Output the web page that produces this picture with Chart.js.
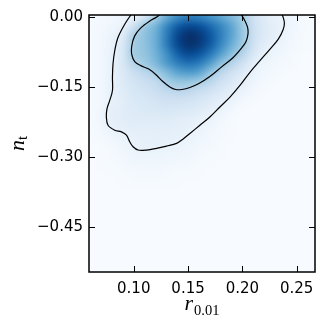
<!DOCTYPE html>
<html>
<head>
<meta charset="utf-8">
<script src="https://cdn.jsdelivr.net/npm/chart.js@4.4.1/dist/chart.umd.min.js"></script>
<style>
  html, body { margin: 0; padding: 0; background: #fff; }
  #wrap { width: 327px; height: 328px; }
</style>
</head>
<body>
<div id="wrap"><canvas id="chart" width="327" height="328"></canvas></div>
<script>
// axis ticks
const xTicks = [0.10, 0.15, 0.20, 0.25];
const yTicks = [0.00, -0.15, -0.30, -0.45];

// density grid (cell centres), 0..1 of the peak
const gridX = [0.06, 0.07, 0.08, 0.09, 0.10, 0.11, 0.12, 0.13, 0.14, 0.15, 0.16,
               0.17, 0.18, 0.19, 0.20, 0.21, 0.22, 0.23, 0.24, 0.25, 0.26];
const gridY = [0.00, -0.02, -0.04, -0.06, -0.08, -0.10, -0.12, -0.14, -0.16, -0.18,
               -0.20, -0.22, -0.24, -0.26, -0.28, -0.30, -0.32, -0.34, -0.36, -0.38];
const density = [
  [0.01,0.02,0.03,0.05,0.08,0.15,0.33,0.50,0.64,0.70,0.68,0.62,0.54,0.45,0.36,0.20,0.12,0.08,0.05,0.03,0.01],
  [0.01,0.02,0.04,0.07,0.20,0.38,0.47,0.66,0.82,0.90,0.88,0.78,0.67,0.54,0.38,0.22,0.13,0.09,0.06,0.03,0.01],
  [0.01,0.03,0.06,0.12,0.33,0.41,0.50,0.70,0.91,1.00,0.97,0.86,0.70,0.55,0.39,0.22,0.13,0.09,0.05,0.02,0.01],
  [0.01,0.03,0.07,0.15,0.35,0.41,0.50,0.70,0.90,0.99,0.96,0.84,0.67,0.50,0.37,0.20,0.11,0.07,0.04,0.02,0.01],
  [0.01,0.03,0.08,0.16,0.36,0.40,0.48,0.63,0.81,0.90,0.86,0.73,0.57,0.42,0.30,0.16,0.08,0.05,0.03,0.01,0.00],
  [0.01,0.03,0.08,0.15,0.30,0.37,0.45,0.58,0.69,0.75,0.71,0.58,0.42,0.30,0.20,0.10,0.05,0.03,0.02,0.01,0.00],
  [0.01,0.03,0.08,0.14,0.22,0.28,0.34,0.44,0.54,0.58,0.54,0.40,0.28,0.20,0.13,0.07,0.03,0.02,0.01,0.00,0.00],
  [0.01,0.03,0.08,0.13,0.18,0.22,0.26,0.34,0.39,0.39,0.35,0.28,0.20,0.14,0.09,0.05,0.02,0.01,0.00,0.00,0.00],
  [0.01,0.03,0.08,0.12,0.16,0.19,0.22,0.26,0.28,0.27,0.23,0.19,0.14,0.10,0.06,0.03,0.01,0.00,0.00,0.00,0.00],
  [0.01,0.03,0.08,0.11,0.14,0.16,0.18,0.20,0.20,0.19,0.16,0.13,0.09,0.06,0.03,0.01,0.00,0.00,0.00,0.00,0.00],
  [0.01,0.04,0.09,0.11,0.13,0.14,0.15,0.16,0.15,0.14,0.12,0.09,0.06,0.03,0.01,0.00,0.00,0.00,0.00,0.00,0.00],
  [0.01,0.04,0.09,0.11,0.12,0.12,0.12,0.12,0.11,0.10,0.08,0.06,0.03,0.01,0.00,0.00,0.00,0.00,0.00,0.00,0.00],
  [0.01,0.03,0.07,0.09,0.10,0.10,0.10,0.10,0.09,0.08,0.06,0.04,0.02,0.01,0.00,0.00,0.00,0.00,0.00,0.00,0.00],
  [0.00,0.02,0.04,0.06,0.075,0.085,0.09,0.085,0.08,0.065,0.045,0.03,0.015,0.005,0,0,0,0,0,0,0],
  [0.00,0.01,0.02,0.04,0.07,0.078,0.077,0.065,0.055,0.045,0.03,0.02,0.01,0,0,0,0,0,0,0,0],
  [0.00,0.01,0.015,0.03,0.045,0.05,0.05,0.045,0.04,0.03,0.02,0.01,0.005,0,0,0,0,0,0,0,0],
  [0.00,0.005,0.01,0.02,0.03,0.035,0.035,0.03,0.025,0.02,0.01,0.005,0,0,0,0,0,0,0,0,0],
  [0,0,0.005,0.01,0.015,0.02,0.02,0.015,0.01,0.01,0.005,0,0,0,0,0,0,0,0,0,0],
  [0,0,0,0.005,0.008,0.01,0.01,0.008,0.005,0.003,0,0,0,0,0,0,0,0,0,0,0],
  [0,0,0,0,0,0,0,0,0,0,0,0,0,0,0,0,0,0,0,0,0],
];

// contour lines
const outerX = [0.0986,0.0917,0.0855,0.0825,0.0809,0.0804,0.0804,0.0779,0.0754,0.0748,0.0763,0.0825,
                0.0887,0.0933,0.0963,0.0994,0.1040,0.1117,0.1209,0.1302,0.1394,0.1455,0.1517,0.1609,
                0.1701,0.1793,0.1886,0.1978,0.2070,0.2162,0.2255,0.2331,0.2377,0.2387,0.2372,0.2361];
const outerY = [0.008,-0.0162,-0.0447,-0.0730,-0.1013,-0.1298,-0.1581,-0.1794,-0.1970,-0.2149,-0.2326,-0.2432,
                -0.2468,-0.2538,-0.2681,-0.2787,-0.2857,-0.2857,-0.2821,-0.2772,-0.2715,-0.2620,-0.2502,-0.2326,
                -0.2149,-0.1936,-0.1723,-0.1474,-0.1191,-0.0943,-0.0694,-0.0481,-0.0268,-0.0128,0.0015,0.008];
const innerX = [0.1258,0.1212,0.1148,0.1065,0.1009,0.0982,0.0982,0.1009,0.1065,0.1138,0.1203,0.1268,0.1332,
                0.1387,0.1443,0.1517,0.1600,0.1701,0.1812,0.1913,0.1987,0.2033,0.2052,0.2047,0.2015,0.1978];
const innerY = [0.008,-0.0006,-0.0091,-0.0240,-0.0411,-0.0623,-0.0815,-0.0964,-0.1049,-0.1123,-0.1240,-0.1389,-0.1506,
                -0.1560,-0.1560,-0.1517,-0.1432,-0.1283,-0.1070,-0.0879,-0.0687,-0.0538,-0.0368,-0.0219,-0.0049,0.008];

const blues = ['#f7fbff', '#deebf7', '#c6dbef', '#9ecae1', '#6baed6', '#4292c6', '#2171b5', '#08519c', '#08306b'];
const bluesRgb = blues.map((c) => [1, 3, 5].map((i) => parseInt(c.slice(i, i + 2), 16)));

function cmap(v) {
    const t = Math.max(0, Math.min(1, v)) * (bluesRgb.length - 1);
    const i = Math.min(bluesRgb.length - 2, Math.floor(t));
    const f = t - i;
    return bluesRgb[i].map((c, k) => Math.round(c + (bluesRgb[i + 1][k] - c) * f));
}

const zip = (xs, ys) => xs.map((x, i) => ({ x, y: ys[i] }));

const heatmap = {
    id: 'heatmap',
    beforeDatasetsDraw(chart) {
        const { ctx, chartArea: a, scales: { x, y } } = chart;
        const nx = gridX.length;
        const ny = gridY.length;
        const off = document.createElement('canvas');
        off.width = nx;
        off.height = ny;
        const octx = off.getContext('2d');
        const img = octx.createImageData(nx, ny);
        density.forEach((row, j) => row.forEach((v, i) => {
            const c = cmap(v);
            const k = (j * nx + i) * 4;
            img.data[k] = c[0];
            img.data[k + 1] = c[1];
            img.data[k + 2] = c[2];
            img.data[k + 3] = 255;
        }));
        octx.putImageData(img, 0, 0);
        const hx = (gridX[1] - gridX[0]) / 2;
        const hy = (gridY[0] - gridY[1]) / 2;
        const left = x.getPixelForValue(gridX[0] - hx);
        const right = x.getPixelForValue(gridX[nx - 1] + hx);
        const top = y.getPixelForValue(gridY[0] + hy);
        const bottom = y.getPixelForValue(gridY[ny - 1] - hy);
        ctx.save();
        ctx.fillStyle = blues[0];
        ctx.fillRect(a.left, a.top, a.width, a.height);
        ctx.beginPath();
        ctx.rect(a.left, a.top, a.width, a.height);
        ctx.clip();
        ctx.imageSmoothingEnabled = true;
        ctx.imageSmoothingQuality = 'high';
        ctx.drawImage(off, left, top, right - left, bottom - top);
        ctx.restore();
    },
};

const frame = {
    id: 'frame',
    afterDraw(chart) {
        const { ctx, chartArea: a, scales: { x, y } } = chart;
        const len = 6;
        ctx.save();
        ctx.strokeStyle = '#000';
        ctx.lineWidth = 1;
        ctx.beginPath();
        x.ticks.forEach((t) => {
            const px = Math.round(x.getPixelForValue(t.value)) + 0.5;
            ctx.moveTo(px, a.bottom); ctx.lineTo(px, a.bottom - len);
            ctx.moveTo(px, a.top); ctx.lineTo(px, a.top + len);
        });
        y.ticks.forEach((t) => {
            const py = Math.round(y.getPixelForValue(t.value)) + 0.5;
            ctx.moveTo(a.left, py); ctx.lineTo(a.left + len, py);
            ctx.moveTo(a.right, py); ctx.lineTo(a.right - len, py);
        });
        ctx.stroke();
        ctx.lineWidth = 1.5;
        ctx.strokeRect(a.left, a.top, a.width, a.height);

        // axis labels: r_{0.01} and n_t
        ctx.fillStyle = '#000';
        ctx.textBaseline = 'alphabetic';
        ctx.textAlign = 'left';
        ctx.font = 'italic 22px "Liberation Serif"';
        const rW = ctx.measureText('r').width;
        ctx.font = '14.5px "Liberation Serif"';
        const sW = ctx.measureText('0.01').width;
        const cx = (a.left + a.right) / 2;
        const x0 = cx - (rW + 1 + sW) / 2;
        ctx.font = 'italic 22px "Liberation Serif"';
        ctx.fillText('r', x0, 310);
        ctx.font = '14.5px "Liberation Serif"';
        ctx.fillText('0.01', x0 + rW + 1, 315);

        ctx.translate(23.5, (a.top + a.bottom) / 2);
        ctx.rotate(-Math.PI / 2);
        ctx.font = 'italic 22px "Liberation Serif"';
        const nW = ctx.measureText('n').width;
        ctx.font = '14.5px "Liberation Serif"';
        const tW = ctx.measureText('t').width;
        const y0 = -(nW + tW) / 2;
        ctx.font = 'italic 22px "Liberation Serif"';
        ctx.fillText('n', y0, 0);
        ctx.font = '14.5px "Liberation Serif"';
        ctx.fillText('t', y0 + nW, 3);
        ctx.restore();
    },
};

const fmt = (v) => (v < -1e-9 ? '\u2212' : '') + Math.abs(v).toFixed(2);

new Chart(document.getElementById('chart'), {
    type: 'scatter',
    data: {
        datasets: [
            {
                label: 'outer',
                data: zip(outerX, outerY),
                showLine: true,
                borderColor: '#000',
                borderWidth: 1.2,
                pointRadius: 0,
                tension: 0.35,
            },
            {
                label: 'inner',
                data: zip(innerX, innerY),
                showLine: true,
                borderColor: '#000',
                borderWidth: 1.2,
                pointRadius: 0,
                tension: 0.35,
            },
        ],
    },
    options: {
        responsive: false,
        animation: false,
        layout: { padding: { left: 0, right: 12, top: 14, bottom: 0 } },
        plugins: {
            legend: { display: false },
            tooltip: { enabled: false },
        },
        scales: {
            x: {
                type: 'linear',
                min: 0.0588,
                max: 0.2669,
                afterBuildTicks: (s) => { s.ticks = xTicks.map((v) => ({ value: v })); },
                afterFit: (s) => { s.height = 56; },
                ticks: {
                    callback: (v) => fmt(v),
                    color: '#000',
                    padding: 8,
                    maxRotation: 0,
                    font: { family: '"DejaVu Sans"', size: 15 },
                },
                grid: { display: false, drawTicks: false },
                border: { display: false },
            },
            y: {
                type: 'linear',
                min: -0.547,
                max: 0.0036,
                afterBuildTicks: (s) => { s.ticks = yTicks.map((v) => ({ value: v })); },
                afterFit: (s) => { s.width = 89; },
                ticks: {
                    callback: (v) => fmt(v),
                    color: '#000',
                    padding: 6,
                    font: { family: '"DejaVu Sans"', size: 15 },
                },
                grid: { display: false, drawTicks: false },
                border: { display: false },
            },
        },
    },
    plugins: [heatmap, frame],
});
</script>
</body>
</html>
